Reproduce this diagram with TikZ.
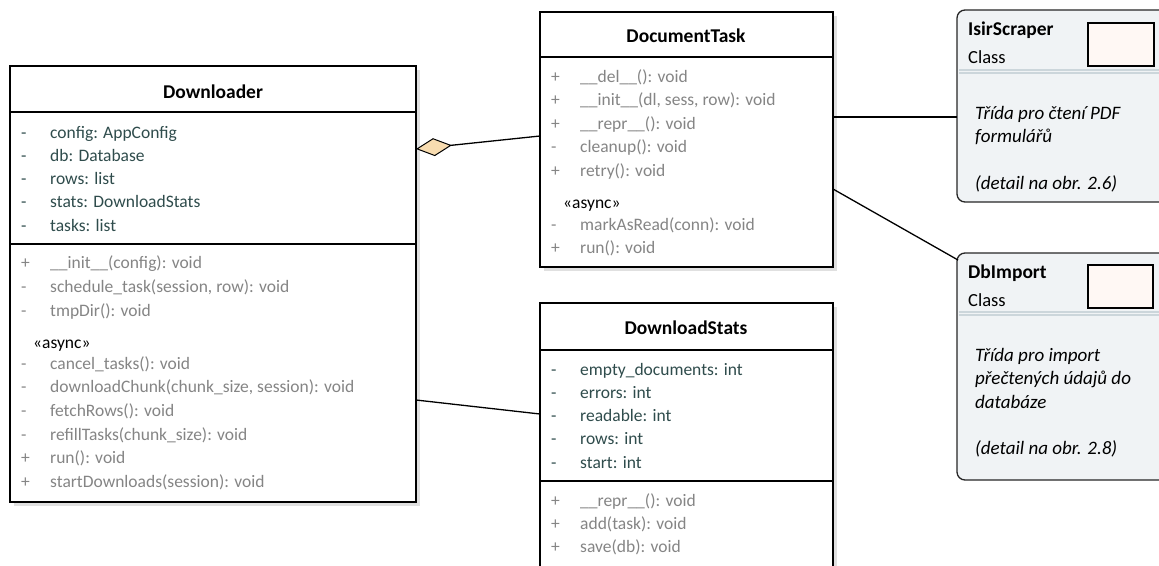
\documentclass[tikz,border=0pt]{standalone}
\usepackage{fontspec}
\setmainfont{Carlito}
\usetikzlibrary{shadows,arrows.meta}

\definecolor{attrcol}{HTML}{2F4C4C}
\definecolor{opcol}{HTML}{858585}
\definecolor{notefill}{HTML}{F0F3F5}
\definecolor{notesep}{HTML}{CCD6DB}
\definecolor{iconfill}{HTML}{FFF8F4}
\definecolor{aggfill}{HTML}{F8DCB0}
\definecolor{shadowcol}{HTML}{E0E0E0}

% visibility marker column
\newcommand\vis[1]{\makebox[29pt][l]{#1}}
% list of members: prefix, x, first baseline, line step, colour, entries
\newcommand\memberlist[6]{%
  \foreach [count=\i] \sgn/\txt in {#6}{%
    \node[member, text=#5] (#1-\i) at (#2,{#3+(\i-1)*#4}) {\vis{\sgn}\txt};
  }%
}

\begin{document}
\begin{tikzpicture}[x=1pt,y=-1pt,
  classbox/.style={rectangle, draw=black, line width=1.7pt, fill=white,
    inner sep=0pt, outer sep=0pt, anchor=north west,
    drop shadow={shadow xshift=4pt, shadow yshift=-4pt, fill=shadowcol, opacity=1}},
  notebox/.style={rectangle, rounded corners=8pt, draw=black!85, line width=1.3pt,
    fill=notefill, inner sep=0pt, outer sep=0pt, anchor=north west},
  iconbox/.style={rectangle, draw=black, line width=1.3pt, fill=iconfill,
    inner sep=0pt, outer sep=0pt, anchor=north west},
  classname/.style={font=\fontsize{19.5}{22}\selectfont\bfseries, inner sep=0pt},
  member/.style={font=\fontsize{17.5}{20}\selectfont, inner sep=0pt, anchor=base west},
  stereo/.style={member, text=black},
  notetitle/.style={font=\fontsize{19.5}{22}\selectfont\bfseries, inner sep=0pt, anchor=base west},
  notetext/.style={font=\fontsize{18.5}{22}\selectfont, inner sep=0pt, anchor=base west},
  notedesc/.style={font=\fontsize{19}{22}\selectfont\itshape, inner sep=0pt, anchor=base west},
  compsep/.style={line width=1.3pt, black},
  notesepline/.style={line width=1.2pt, notesep},
  assoc/.style={line width=1.3pt, black}]

\useasboundingbox (0,0) rectangle (1159,565);
\clip (0,0) rectangle (1159,565);

% ---------- Downloader ----------
\node[classbox, minimum width=406pt, minimum height=436pt] (dl) at (10,66) {};
\node[classname] (dl-name) at (213,92) {Downloader};
\draw[compsep] ([yshift=-46pt]dl.north west) -- ([yshift=-46pt]dl.north east);
\draw[compsep] ([yshift=-178pt]dl.north west) -- ([yshift=-178pt]dl.north east);
\memberlist{dl-attr}{21}{138}{23.3}{attrcol}{
  -/config: AppConfig, -/db: Database, -/rows: list, -/stats: DownloadStats, -/tasks: list}
\memberlist{dl-op}{21}{268}{24}{opcol}{
  +/\_\_init\_\_(config): void, {-/schedule\_task(session, row): void}, -/tmpDir(): void}
\node[stereo] (dl-async) at (33,348) {«async»};
\memberlist{dl-aop}{21}{369}{23.7}{opcol}{
  -/cancel\_tasks(): void, {-/downloadChunk(chunk\_size, session): void}, -/fetchRows(): void,
  -/refillTasks(chunk\_size): void, +/run(): void, +/startDownloads(session): void}

% ---------- DocumentTask ----------
\node[classbox, minimum width=293pt, minimum height=255pt] (dt) at (540,12) {};
\node[classname] (dt-name) at (686,36) {DocumentTask};
\draw[compsep] ([yshift=-45pt]dt.north west) -- ([yshift=-45pt]dt.north east);
\memberlist{dt-op}{551}{82}{23.5}{opcol}{
  +/\_\_del\_\_(): void, {+/\_\_init\_\_(dl, sess, row): void}, +/\_\_repr\_\_(): void,
  -/cleanup(): void, +/retry(): void}
\node[stereo] (dt-async) at (563,208) {«async»};
\memberlist{dt-aop}{551}{230}{23}{opcol}{
  -/markAsRead(conn): void, +/run(): void}

% ---------- DownloadStats ----------
\node[classbox, minimum width=293pt, minimum height=280pt] (ds) at (540,303) {};
\node[classname] (ds-name) at (686,328) {DownloadStats};
\draw[compsep] ([yshift=-47pt]ds.north west) -- ([yshift=-47pt]ds.north east);
\draw[compsep] ([yshift=-178pt]ds.north west) -- ([yshift=-178pt]ds.north east);
\memberlist{ds-attr}{551}{375}{23.3}{attrcol}{
  -/empty\_documents: int, -/errors: int, -/readable: int, -/rows: int, -/start: int}
\memberlist{ds-op}{551}{506}{23}{opcol}{
  +/\_\_repr\_\_(): void, +/add(task): void, +/save(db): void}

% ---------- IsirScraper ----------
\node[notebox, minimum width=225pt, minimum height=192pt] (isir) at (957,10) {};
\node[iconbox, minimum width=66pt, minimum height=43pt] (isir-icon) at (1088,23) {};
\node[notetitle] (isir-name) at (968,35) {IsirScraper};
\node[notetext] (isir-kind) at (968,63) {Class};
\draw[notesepline] ([xshift=2pt,yshift=-60pt]isir.north west) -- ([xshift=-2pt,yshift=-60pt]isir.north east);
\draw[notesepline] ([xshift=2pt,yshift=-63pt]isir.north west) -- ([xshift=-2pt,yshift=-63pt]isir.north east);
\node[notedesc] (isir-d1) at (975,119) {Třída pro čtení PDF};
\node[notedesc] (isir-d2) at (975,142.5) {formulářů};
\node[notedesc] (isir-d3) at (975,189) {(detail na obr. 2.6)};

% ---------- DbImport ----------
\node[notebox, minimum width=225pt, minimum height=227pt] (dbi) at (957,253) {};
\node[iconbox, minimum width=65pt, minimum height=43pt] (dbi-icon) at (1088,265) {};
\node[notetitle] (dbi-name) at (968,278) {DbImport};
\node[notetext] (dbi-kind) at (968,306) {Class};
\draw[notesepline] ([xshift=2pt,yshift=-59pt]dbi.north west) -- ([xshift=-2pt,yshift=-59pt]dbi.north east);
\draw[notesepline] ([xshift=2pt,yshift=-62pt]dbi.north west) -- ([xshift=-2pt,yshift=-62pt]dbi.north east);
\node[notedesc] (dbi-d1) at (975,361) {Třída pro import};
\node[notedesc] (dbi-d2) at (975,384.5) {přečtených údajů do};
\node[notedesc] (dbi-d3) at (975,408) {databáze};
\node[notedesc] (dbi-d4) at (975,454) {(detail na obr. 2.8)};

% ---------- relations ----------
\draw[assoc, {Diamond[length=36pt, width=18pt, fill=aggfill, line width=1pt]}-]
  ([yshift=-83pt]dl.north east) -- ([yshift=-124pt]dt.north west);
\draw[assoc] ([yshift=-334pt]dl.north east) -- ([yshift=-111pt]ds.north west);
\draw[assoc] ([yshift=-105pt]dt.north east) -- ([yshift=-107pt]isir.north west);
\draw[assoc] ([yshift=-177pt]dt.north east) -- ([xshift=1pt,yshift=-7pt]dbi.north west);
\end{tikzpicture}
\end{document}
